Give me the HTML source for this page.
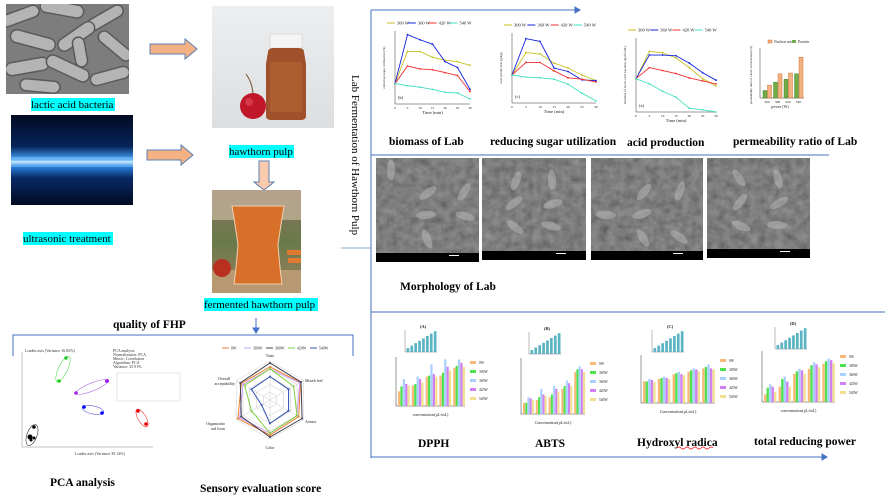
<!DOCTYPE html>
<html><head><meta charset="utf-8"><style>
html,body{margin:0;padding:0;background:#fff}
svg{display:block}
.lb{font-family:"Liberation Serif",serif;font-size:11px;fill:#000}
.bl{font-family:"Liberation Serif",serif;font-size:11.5px;font-weight:bold;fill:#000}
.t{font-family:"Liberation Serif",serif;font-size:4px;fill:#333}
</style></head><body>
<svg id="s" width="885" height="498" viewBox="0 0 885 498" xmlns="http://www.w3.org/2000/svg">
<defs>
<linearGradient id="us" x1="0" y1="0" x2="0" y2="1">
<stop offset="0" stop-color="#020a22"/><stop offset="0.35" stop-color="#06245a"/><stop offset="0.5" stop-color="#4aa8ff"/><stop offset="0.52" stop-color="#dff2ff"/><stop offset="0.56" stop-color="#2a86e8"/><stop offset="0.7" stop-color="#082a66"/><stop offset="1" stop-color="#020a22"/></linearGradient>
<linearGradient id="hw" x1="0" y1="0" x2="0" y2="1"><stop offset="0" stop-color="#eceef0"/><stop offset="1" stop-color="#dcdee0"/></linearGradient>
<linearGradient id="jb" x1="0" y1="0" x2="0" y2="1"><stop offset="0" stop-color="#8a7060"/><stop offset="0.5" stop-color="#6a7a4a"/><stop offset="1" stop-color="#9a8060"/></linearGradient>
<filter id="nz" x="0" y="0" width="1" height="1"><feTurbulence type="fractalNoise" baseFrequency="0.12" numOctaves="3" seed="3"/><feColorMatrix type="saturate" values="0"/><feComponentTransfer><feFuncA type="linear" slope="0" intercept="1"/></feComponentTransfer></filter>
<clipPath id="c1"><rect x="6" y="4" width="123" height="90"/></clipPath>
</defs>

<rect x="6" y="4" width="123" height="90" fill="#7d7d7d"/>
<g clip-path="url(#c1)" fill="#b4b4b4" stroke="#5a5a5a" stroke-width="1.5">
<rect x="0" y="10" width="40" height="12" rx="6" transform="rotate(-20 20 16)"/>
<rect x="40" y="2" width="44" height="13" rx="6.5" transform="rotate(10 60 8)"/>
<rect x="85" y="12" width="40" height="12" rx="6" transform="rotate(-30 105 18)"/>
<rect x="10" y="34" width="46" height="13" rx="6.5" transform="rotate(15 33 40)"/>
<rect x="55" y="30" width="42" height="13" rx="6.5" transform="rotate(-35 76 36)"/>
<rect x="95" y="40" width="40" height="12" rx="6" transform="rotate(40 115 46)"/>
<rect x="5" y="60" width="44" height="13" rx="6.5" transform="rotate(-10 27 66)"/>
<rect x="45" y="62" width="46" height="13" rx="6.5" transform="rotate(25 68 68)"/>
<rect x="90" y="70" width="40" height="12" rx="6" transform="rotate(-15 110 76)"/>
<rect x="20" y="80" width="40" height="12" rx="6" transform="rotate(5 40 86)"/>
<rect x="65" y="46" width="30" height="12" rx="6" transform="rotate(80 80 52)"/>
</g>
<rect x="31" y="98" width="84" height="13" fill="#00ffff"/>
<text class="lb" x="31" y="108">lactic acid bacteria</text>

<rect x="11" y="115" width="122" height="90" fill="url(#us)"/>
<rect x="11" y="157" width="122" height="10" fill="#9fd4ff" opacity="0.4"/>
<rect x="23" y="232" width="90" height="13" fill="#00ffff"/>
<text class="lb" x="23" y="242">ultrasonic treatment</text>

<path d="M150 44 H185 V39 L197 49 L185 59 V54 H150 Z" fill="#f4b183" stroke="#5b7fb5" stroke-width="1"/>
<path d="M147 150 H181 V145 L193 155 L181 165 V160 H147 Z" fill="#f4b183" stroke="#5b7fb5" stroke-width="1"/>
<path d="M259 161 H269 V182 H274 L264 190 L254 182 H259 Z" fill="#f8cbad" stroke="#5b7fb5" stroke-width="1"/>

<rect x="212" y="6" width="122" height="122" fill="url(#hw)"/>
<rect x="270" y="34" width="32" height="14" fill="#f4f4f4" stroke="#ccc" stroke-width="0.5"/>
<path d="M268 52 Q268 48 274 48 H298 Q304 48 304 52 L306 64 V116 Q306 120 300 120 H272 Q266 120 266 116 V64 Z" fill="#a0502a"/>
<rect x="270" y="62" width="32" height="50" fill="#b86636" opacity="0.6"/>
<circle cx="253" cy="106" r="13" fill="#c0182a"/>
<circle cx="249" cy="102" r="4" fill="#e05060" opacity="0.6"/>
<path d="M253 93 Q252 82 246 74" stroke="#6a4a2a" stroke-width="1" fill="none"/>
<rect x="229" y="145" width="65" height="13" fill="#00ffff"/>
<text class="lb" x="229" y="155">hawthorn pulp</text>

<rect x="212" y="190" width="89" height="103" fill="url(#jb)"/>
<rect x="212" y="190" width="89" height="30" fill="#c8b8a0" opacity="0.7"/>
<rect x="212" y="270" width="89" height="23" fill="#b89870"/>
<path d="M232 206 H284 Q280 230 278 245 Q280 270 282 284 H234 Q236 270 238 245 Q236 230 232 206 Z" fill="#d8702a" stroke="#f0d0b0" stroke-width="1"/>
<circle cx="222" cy="268" r="9" fill="#b83020"/>
<rect x="287" y="250" width="14" height="5" fill="#e07a30"/><rect x="288" y="258" width="13" height="5" fill="#e07a30"/>
<rect x="204" y="298" width="114" height="13" fill="#00ffff"/>
<text class="lb" x="204" y="308">fermented hawthorn pulp</text>

<text class="lb" transform="translate(352,75) rotate(90)" font-size="11">Lab Fermentation of Hawthorn Pulp</text>
<line x1="341" y1="248" x2="371" y2="248" stroke="#8eaadb" stroke-width="1"/>

<g stroke="#4472c4" stroke-width="1" fill="none">
<line x1="371" y1="10" x2="578" y2="10"/><path d="M575 7 L580 10 L575 13 Z" fill="#4472c4"/>
<line x1="371" y1="10" x2="371" y2="458"/>
<line x1="371" y1="155" x2="829" y2="155"/>
<line x1="371" y1="312" x2="885" y2="312"/>
<line x1="371" y1="457" x2="825" y2="457"/><path d="M822 454 L827 457 L822 460 Z" fill="#4472c4"/>
<path d="M13 356 V335 H353 V356"/>
<line x1="256" y1="318" x2="256" y2="329"/><path d="M253 328 L256 333 L259 328 Z" fill="#4472c4"/>
</g>

<g id="charts"></g>
<g id="sem"></g>
<text class="bl" x="400" y="290">Morphology of Lab</text>

<text class="bl" x="389" y="145">biomass of Lab</text>
<text class="bl" x="490" y="145">reducing sugar utilization</text>
<text class="bl" x="627" y="146">acid production</text>
<text class="bl" x="733" y="145">permeability ratio of Lab</text>
<text class="bl" x="418" y="447">DPPH</text>
<text class="bl" x="535" y="447">ABTS</text>
<text class="bl" x="637" y="446">Hydroxyl radica</text>
<path d="M677 448 q2 -2 4 0 t4 0 t4 0 t4 0 t4 0 t4 0 t4 0 t4 0 t4 0" stroke="red" stroke-width="0.6" fill="none"/>
<text class="bl" x="754" y="445">total reducing power</text>
<text class="bl" x="113" y="328">quality of FHP</text>
<text class="bl" x="50" y="486">PCA analysis</text>
<text class="bl" x="200" y="492">Sensory evaluation score</text>

<g stroke="#888" stroke-width="0.5" fill="none">
<line x1="22" y1="352" x2="22" y2="447"/><line x1="22" y1="447" x2="153" y2="447"/>
</g>
<text class="t" x="25" y="352">Loadin axis (Variance 16.82%)</text>
<text class="t" x="75" y="455">Loadin axis (Variance 39.14%)</text>
<g class="t"><text x="113" y="352">PCA analysis</text><text x="113" y="356">Normalization: PCA</text><text x="113" y="360">Metric: Correlation</text><text x="113" y="364">Algorithm: PCA</text><text x="113" y="368">Variance: 35.91%</text></g>
<rect x="117" y="373" width="63" height="28" fill="none" stroke="#aaa" stroke-width="0.3"/>
<g fill="none" stroke-width="0.6">
<ellipse cx="63" cy="369" rx="4.5" ry="14" transform="rotate(25 63 369)" stroke="#5d5"/>
<ellipse cx="92" cy="387" rx="17" ry="4" transform="rotate(-22 92 387)" stroke="#b070e0"/>
<ellipse cx="93" cy="410" rx="11" ry="4" transform="rotate(12 93 410)" stroke="#6060d0"/>
<ellipse cx="142" cy="418" rx="4" ry="10" transform="rotate(-30 142 418)" stroke="#e33"/>
<ellipse cx="32" cy="435" rx="5" ry="11" transform="rotate(20 32 435)" stroke="#333"/>
</g>
<g>
<circle cx="66" cy="358" r="1.8" fill="#2c2"/><circle cx="59" cy="381" r="1.8" fill="#2c2"/>
<circle cx="76" cy="393" r="1.8" fill="#a020f0"/><circle cx="107" cy="381" r="2" fill="#a020f0"/>
<circle cx="84" cy="407" r="1.8" fill="#00f"/><circle cx="102" cy="413" r="1.8" fill="#00f"/>
<circle cx="138" cy="411" r="1.8" fill="#e00"/><circle cx="146" cy="424" r="1.8" fill="#e00"/>
<circle cx="34" cy="427" r="1.8" fill="#000"/><circle cx="30" cy="437" r="2.5" fill="#000"/><circle cx="34" cy="438" r="1.5" fill="#000"/><circle cx="31" cy="440" r="1.5" fill="#000"/>
</g>

<g id="radar"></g>
</svg>
<script>
const S=document.getElementById('s'),NS='http://www.w3.org/2000/svg';
function el(t,a,p){const e=document.createElementNS(NS,t);for(const k in a)e.setAttribute(k,a[k]);(p||S).appendChild(e);return e;}
function tx(x,y,s,sz,p,anc){const e=el('text',{x,y,'font-family':'Liberation Serif,serif','font-size':sz||4,fill:'#222','text-anchor':anc||'start'},p);e.textContent=s;return e;}
const G=document.getElementById('charts');
function lc(x0,y0,x1,y1,data,lab,yl){
 el('line',{x1:x0,y1:y0,x2:x0,y2:y1,stroke:'#333','stroke-width':0.5},G);
 el('line',{x1:x0,y1:y1,x2:x1,y2:y1,stroke:'#333','stroke-width':0.5},G);
 const cols=['#c8c020','#1020e0','#f03030','#40e0c0'],names=['300 W','360 W','420 W','540 W'];
 for(let i=0;i<4;i++){const lx=x0+i*(x1-x0)/3.6-8;el('line',{x1:lx,y1:y0-8,x2:lx+8,y2:y0-8,stroke:cols[i],'stroke-width':1},G);tx(lx+10,y0-6.5,names[i],4.5,G);}
 data.forEach((d,i)=>{const pts=d.map((v,j)=>(x0+j*(x1-x0)/6)+','+(y1-v*(y1-y0))).join(' ');el('polyline',{points:pts,fill:'none',stroke:cols[i],'stroke-width':0.9},G);
  d.forEach((v,j)=>el('circle',{cx:x0+j*(x1-x0)/6,cy:y1-v*(y1-y0),r:0.9,fill:cols[i]},G));});
 for(let j=0;j<7;j++)tx(x0+j*(x1-x0)/6,y1+5,String(j*5),3.5,G,'middle');
 tx((x0+x1)/2,y1+10,'Time (min)',4.5,G,'middle');
 const t=tx(0,0,yl,3.5,G,'middle');t.setAttribute('transform',`translate(${x0-10},${(y0+y1)/2}) rotate(-90)`);
 tx(x0+3,y1-5,lab,4.5,G);
}
lc(395,31,470,104,[[.28,.72,.72,.64,.6,.58,.53],[.28,.95,.88,.82,.58,.5,.2],[.28,.52,.48,.47,.43,.39,.17],[.28,.25,.23,.2,.16,.15,.07]],'(b)','reducing sugar utilization (%)');
lc(512,33,596,103,[[.4,.72,.7,.57,.5,.4,.32],[.4,.92,.88,.5,.45,.33,.32],[.4,.58,.58,.46,.36,.34,.3],[.4,.37,.36,.34,.27,.14,.03]],'(c)','acid production (g/kg)');
lc(636,38,716,112,[[.45,.82,.8,.73,.6,.45,.35],[.45,.77,.77,.76,.66,.53,.43],[.45,.6,.56,.52,.46,.42,.38],[.45,.38,.28,.2,.05,.03,0]],'(a)','biomass of lactic acid bacteria lg(cfu/mL)');
(function(){const x0=760,y0=48,x1=800,y1=98;el('line',{x1:x0,y1:y0,x2:x0,y2:y1,stroke:'#333','stroke-width':0.5},G);el('line',{x1:x0,y1:y1,x2:x1+4,y2:y1,stroke:'#333','stroke-width':0.5},G);
 const g=[1.8,3.8,4.5,5.8],o=[3.1,5.8,6,9.8],lab=['300','360','420','540'];
 for(let i=0;i<4;i++){const bx=x0+3+i*10.5;el('rect',{x:bx,y:y1-g[i]/12*(y1-y0),width:4,height:g[i]/12*(y1-y0),fill:'#70ad47',stroke:'#3a7a2a','stroke-width':0.4},G);
 el('rect',{x:bx+4.5,y:y1-o[i]/12*(y1-y0),width:4,height:o[i]/12*(y1-y0),fill:'#f4b183',stroke:'#c55a11','stroke-width':0.4},G);tx(bx+4,y1+5,lab[i],3.5,G,'middle');}
 el('rect',{x:768,y:40,width:4,height:3,fill:'#f4b183',stroke:'#c55a11','stroke-width':.4},G);tx(774,43,'Nuclear acid',3.8,G);
 el('rect',{x:792,y:40,width:4,height:3,fill:'#70ad47'},G);tx(798,43,'Protein',3.8,G);
 tx(780,108,'power (W)',4,G,'middle');
 const t=tx(0,0,'permeability ratio of Lactic Acid bacteria (%)',3.2,G,'middle');t.setAttribute('transform',`translate(752,75) rotate(-90)`);})();
function bc(x0,y0,x1,y1,data,ix,iy,tl,xl){
 el('line',{x1:x0,y1:y0,x2:x0,y2:y1,stroke:'#333','stroke-width':0.5},G);el('line',{x1:x0,y1:y1,x2:x1,y2:y1,stroke:'#333','stroke-width':0.5},G);
 const cols=['#f8b878','#50e050','#a8d0ff','#d080f0','#f0e090'];const gw=(x1-x0)/data.length;
 data.forEach((d,i)=>{for(let k=0;k<5;k++){const v=d[k],h=v*(y1-y0);el('rect',{x:x0+2+i*gw+k*gw/5.8,y:y1-h,width:gw/6.2,height:h,fill:cols[k]},G);}});
 const n=['0W','300W','360W','420W','540W'];for(let k=0;k<5;k++){el('rect',{x:x1+5,y:y0+4+k*9,width:6,height:3,fill:cols[k]},G);tx(x1+14,y0+7+k*9,n[k],3.6,G);}
 tx((x0+x1)/2,y1+10,xl,4,G,'middle');
 el('line',{x1:ix,y1:iy-22,x2:ix,y2:iy,stroke:'#555','stroke-width':0.4},G);el('line',{x1:ix,y1:iy,x2:ix+32,y2:iy,stroke:'#555','stroke-width':0.4},G);
 for(let j=0;j<8;j++){const h=4+j*2.4;el('rect',{x:ix+1.5+j*3.9,y:iy-h,width:2.7,height:h,fill:'#5ab4c4'},G);}
 tx(ix+18,iy-24,tl,4.5,G,'middle').setAttribute('font-weight','bold');
}
bc(396,357,465,406,[[.3,.4,.55,.45,.42],[.42,.45,.6,.55,.48],[.6,.62,.85,.65,.6],[.62,.68,.95,.8,.72],[.78,.82,.95,.88,.8]],405,352,'(A)','concentration(μL/mL)');
bc(521,358,585,414,[[.2,.2,.3,.28,.25],[.25,.3,.45,.35,.32],[.3,.35,.5,.45,.4],[.45,.5,.6,.55,.5],[.75,.8,.85,.8,.75]],529,354,'(B)','Concentration(μL/mL)');
bc(641,355,715,403,[[.45,.45,.5,.48,.44],[.5,.52,.55,.52,.5],[.6,.62,.65,.6,.58],[.65,.68,.72,.7,.66],[.72,.75,.8,.72,.7]],652,352,'(C)','Concentration(μL/mL)');
bc(762,351,835,402,[[.15,.28,.35,.3,.2],[.3,.45,.5,.4,.3],[.55,.6,.65,.62,.55],[.65,.72,.78,.74,.68],[.75,.8,.85,.82,.76]],775,349,'(D)','concentration(μL/mL)');
const SE=document.getElementById('sem');
[[376,158,103,104],[482,158,104,102],[591,158,112,102],[707,158,103,100]].forEach((r,i)=>{
 el('rect',{x:r[0],y:r[1],width:r[2],height:r[3],fill:'#4a4a4a'},SE);
 el('rect',{x:r[0],y:r[1],width:r[2],height:r[3],filter:'url(#nz)',opacity:0.45},SE);
 for(let k=0;k<6;k++){const ex=r[0]+15+((k*37+i*19)%75),ey=r[1]+12+((k*23+i*11)%70);el('ellipse',{cx:ex,cy:ey,rx:10,ry:4,fill:'#bbb',opacity:.5,transform:`rotate(${(k*53+i*20)%180-90} ${ex} ${ey})`},SE);}
 el('rect',{x:r[0],y:r[1]+r[3]-9,width:r[2],height:9,fill:'#000'},SE);
 el('rect',{x:r[0]+r[2]-30,y:r[1]+r[3]-7,width:10,height:1,fill:'#fff'},SE);
});
const R=document.getElementById('radar');const cx=270,cy=400,rr=39;
function pt(i,v){const a=-Math.PI/2+i*Math.PI/3;return [cx+rr*v*Math.cos(a),cy+rr*v*Math.sin(a)];}
for(let l=1;l<=5;l++){el('polygon',{points:[0,1,2,3,4,5].map(i=>pt(i,l/5).join(',')).join(' '),fill:'none',stroke:'#ccc','stroke-width':0.5},R);}
for(let i=0;i<6;i++){const p=pt(i,1);el('line',{x1:cx,y1:cy,x2:p[0],y2:p[1],stroke:'#ccc','stroke-width':0.5},R);}
const rc=['#ed7d31','#c9a0f0','#404050','#80d040','#3050b0'],rv=[[.85,.9,.85,.9,.95,.85],[.8,.88,.8,.85,.9,.8],[.95,.92,.95,.95,.85,.88],[.8,.7,.8,.85,.55,.75],[.6,.55,.55,.6,.25,.55]];
rv.forEach((d,k)=>{el('polygon',{points:d.map((v,i)=>pt(i,v).join(',')).join(' '),fill:'none',stroke:rc[k],'stroke-width':1},R);d.forEach((v,i)=>{const p=pt(i,v);el('circle',{cx:p[0],cy:p[1],r:1,fill:rc[k]},R);});});
tx(270,357,'Taste',4,R,'middle');tx(305,382,'Mouth feel',4,R,'start');tx(305,423,'Aroma',4,R,'start');tx(270,449,'Color',4,R,'middle');
tx(225,425,'Organizatio',4,R,'end');tx(225,430,'nal form',4,R,'end');tx(230,380,'Overall',4,R,'end');tx(235,385,'acceptability',4,R,'end');
['0W','300W','360W','420W','540W'].forEach((n,k)=>{const x=222+k*22;el('line',{x1:x,y1:348,x2:x+7,y2:348,stroke:rc[k],'stroke-width':1},R);tx(x+9,349.5,n,3.8,R);});
</script>
</body></html>
